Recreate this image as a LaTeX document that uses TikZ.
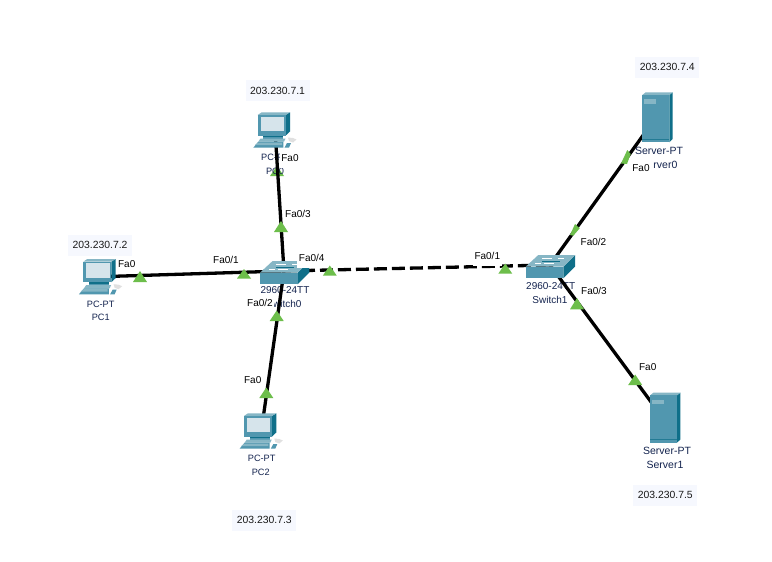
\documentclass[tikz,border=0pt]{standalone}
\usepackage{fontspec}
\setmainfont{Liberation Sans}
\definecolor{devtext}{HTML}{14244F}
\definecolor{ipbg}{HTML}{F6F8FE}
\definecolor{linkgreen}{HTML}{6DBE4B}
\definecolor{tealfront}{HTML}{5197AF}
\definecolor{tealtop}{HTML}{86B6C5}
\definecolor{tealside}{HTML}{0F6F89}
\definecolor{screenc}{HTML}{D6E4EB}
\newcommand{\sz}[1]{\fontsize{#1}{#1}\selectfont}
\tikzset{
  anchorbox/.style={inner sep=0pt,minimum size=4pt},
  devlabel/.style={inner sep=0pt,text=devtext,text height=7.2pt,text depth=0pt,font=\sz{10}},
  pclabel/.style={devlabel,font=\sz{9.2}},
  srvlabel/.style={devlabel,font=\sz{10.5}},
  iplabel/.style={fill=ipbg,text=black!90,font=\sz{10.4},minimum width=64pt,minimum height=21pt,inner sep=0pt},
  portlabel/.style={fill=white,text=black,font=\sz{10},minimum height=20pt,inner xsep=1.5pt,inner ysep=0pt},
  linkline/.style={line width=3.3pt,black},
  porttri/.style={fill=linkgreen,draw=none},
  pcicon/.pic={
    \fill[tealside] (10.7,-15) -- (15,-17.7) -- (15,1.5) -- (10.7,5.5) -- cycle;
    \fill[tealtop] (-17.3,-15) -- (-13.3,-17.7) -- (15,-17.7) -- (10.7,-15) -- cycle;
    \fill[tealfront] (-17.3,-15) rectangle (10.7,5.5);
    \fill[screenc] (-14.3,-13.3) rectangle (9,1);
    \fill[tealside] (-11.7,5.5) rectangle (8.3,7);
    \fill[tealfront] (-11.7,7) rectangle (8.3,8.5);
    \fill[tealtop] (-14.5,8.5) -- (10.5,8.5) -- (9,11.7) -- (-16.7,11.7) -- cycle;
    \fill[tealfront] (-21.7,17.7) -- (-16.7,11.7) -- (8.3,11.7) -- (8.3,17.7) -- cycle;
    \fill[tealtop] (-20,15) -- (-17,12.5) -- (7,12.5) -- (7,15) -- cycle;
    \fill[tealfront] (9.5,17.7) -- (12,13) -- (16,13) -- (14,17.7) -- cycle;
    \fill[black!12] (13,7.5) -- (18,8) -- (21.5,9.5) -- (18,12.5) -- (14,11) -- cycle;
  },
  srvicon/.pic={
    \fill[tealside] (13.8,-23) -- (17.2,-25.7) -- (17.2,21) -- (13.8,24.3) -- cycle;
    \fill[tealtop] (-13.2,-23) -- (-9.8,-25.7) -- (17.2,-25.7) -- (13.8,-23) -- cycle;
    \fill[tealfront] (-13.2,-23) rectangle (13.8,24.3);
    \fill[tealtop] (-11.5,-18.7) rectangle (0.5,-14.3);
    \fill[tealside!70!tealfront] (-13.2,20.5) rectangle (13.8,21);
  },
  swicon/.pic={
    \fill[tealside] (13.3,-0.3) -- (25,-12) -- (25,-0.3) -- (13.3,11.3) -- cycle;
    \fill[tealtop] (-24.3,-0.3) -- (-11.7,-12) -- (25,-12) -- (13.3,-0.3) -- cycle;
    \fill[tealfront] (-24.3,-0.3) rectangle (13.3,11.3);
    \draw[white,line width=.7pt] (-8,-8.5) -- (2,-8.5) (8,-8.5) -- (14,-8.5) (-15,-3.5) -- (-9,-3.5) (-6,-3.5) -- (4,-3.5);
    \draw[tealside,line width=.6pt] (-8,-6) -- (10,-6);
  },
}
\begin{document}
\begin{tikzpicture}[x=1pt,y=-1pt]
\useasboundingbox[fill=white] (0,0) rectangle (772,562);
% port marker under the PC0 label
\fill[porttri] (277,166) -- (284,176) -- (270,176) -- cycle;
% device anchors
\node[anchorbox] (pc0) at (275,130) {};
\node[anchorbox] (pc1) at (100.6,276.7) {};
\node[anchorbox] (pc2) at (261.3,431) {};
\node[anchorbox] (sw0) at (284,271) {};
\node[anchorbox] (sw1) at (550,265) {};
\node[anchorbox] (srv0) at (655.5,118) {};
\node[anchorbox] (srv1) at (663.2,418.4) {};
% device labels
\node[pclabel] (pc0model) at (275,157) {PC-PT};
\node[pclabel] (pc0name) at (275,170.7) {PC0};
\node[pclabel] (pc1model) at (100.7,304) {PC-PT};
\node[pclabel] (pc1name) at (100.7,317) {PC1};
\node[pclabel] (pc2model) at (261.7,457.7) {PC-PT};
\node[pclabel] (pc2name) at (260.7,471.7) {PC2};
\node[devlabel] (sw0model) at (285,289.5) {2960-24TT};
\node[devlabel] (sw0name) at (284,304) {Switch0};
\node[devlabel] (sw1model) at (550.7,286) {2960-24TT};
\node[devlabel] (sw1name) at (550,300) {Switch1};
\node[srvlabel] (srv0model) at (659,151) {Server-PT};
\node[srvlabel] (srv0name) at (659,165) {Server0};
\node[srvlabel] (srv1model) at (667,450.7) {Server-PT};
\node[srvlabel] (srv1name) at (665,465) {Server1};
% links
\draw[linkline] (pc0.center) -- (sw0.center);
\draw[linkline] (pc1.center) -- (sw0.center);
\draw[linkline] (pc2.center) -- (sw0.center);
\draw[linkline,dash pattern=on 13pt off 5pt] (sw0.center) -- (sw1.center);
\draw[linkline] (srv0.center) -- (sw1.center);
\draw[linkline] (srv1.center) -- (sw1.center);
% port markers
\fill[porttri] (140,271) -- (147,282) -- (133,282) -- cycle;
\fill[porttri] (244,269) -- (251,278.5) -- (237,278.5) -- cycle;
\fill[porttri] (281,221) -- (288,232) -- (274,232) -- cycle;
\fill[porttri] (329.8,265.5) -- (336.8,275.7) -- (322.8,275.7) -- cycle;
\fill[porttri] (276.7,310.5) -- (283.7,321) -- (269.7,321) -- cycle;
\fill[porttri] (266.3,387.5) -- (273.3,398) -- (259.3,398) -- cycle;
\fill[porttri] (505.3,263.5) -- (512.3,273.7) -- (498.3,273.7) -- cycle;
\fill[porttri] (577,298) -- (584,309.3) -- (570,309.3) -- cycle;
\fill[porttri] (635.2,374.5) -- (642.2,385) -- (628.2,385) -- cycle;
\fill[porttri] (621,163.5) -- (627.3,150) -- (630.7,154) -- (627,164) -- cycle;
\fill[porttri] (570,235) -- (575,224) -- (579.7,228.3) -- (573.3,235.7) -- cycle;
% icons
\pic at (275,130) {pcicon};
\pic at (100.6,276.7) {pcicon};
\pic at (261.3,431) {pcicon};
\pic at (284.3,273) {swicon};
\pic at (550,267) {swicon};
\pic at (655.5,118) {srvicon};
\pic at (663.2,418.4) {srvicon};
% port labels
\node[portlabel] (p0) at (290,158) {Fa0};
\node[portlabel] (p1) at (126.7,264) {Fa0};
\node[portlabel] (p2) at (226,260) {Fa0/1};
\node[portlabel] (p3) at (298,214) {Fa0/3};
\node[portlabel] (p4) at (311.7,258.3) {Fa0/4};
\node[portlabel] (p5) at (260,303.3) {Fa0/2};
\node[portlabel] (p6) at (252.7,380) {Fa0};
\node[portlabel] (p7) at (487.3,256) {Fa0/1};
\node[portlabel] (p8) at (593.5,241.7) {Fa0/2};
\node[portlabel] (p9) at (594,291) {Fa0/3};
\node[portlabel,inner xsep=3.5pt] (p10) at (641,167.7) {Fa0};
\node[portlabel] (p11) at (647.7,367.3) {Fa0};
% addresses
\node[iplabel] (ip1) at (277.5,90.5) {203.230.7.1};
\node[iplabel] (ip2) at (100,245) {203.230.7.2};
\node[iplabel] (ip3) at (264.3,520) {203.230.7.3};
\node[iplabel] (ip4) at (667.3,67.3) {203.230.7.4};
\node[iplabel] (ip5) at (665.3,495) {203.230.7.5};
\end{tikzpicture}
\end{document}
